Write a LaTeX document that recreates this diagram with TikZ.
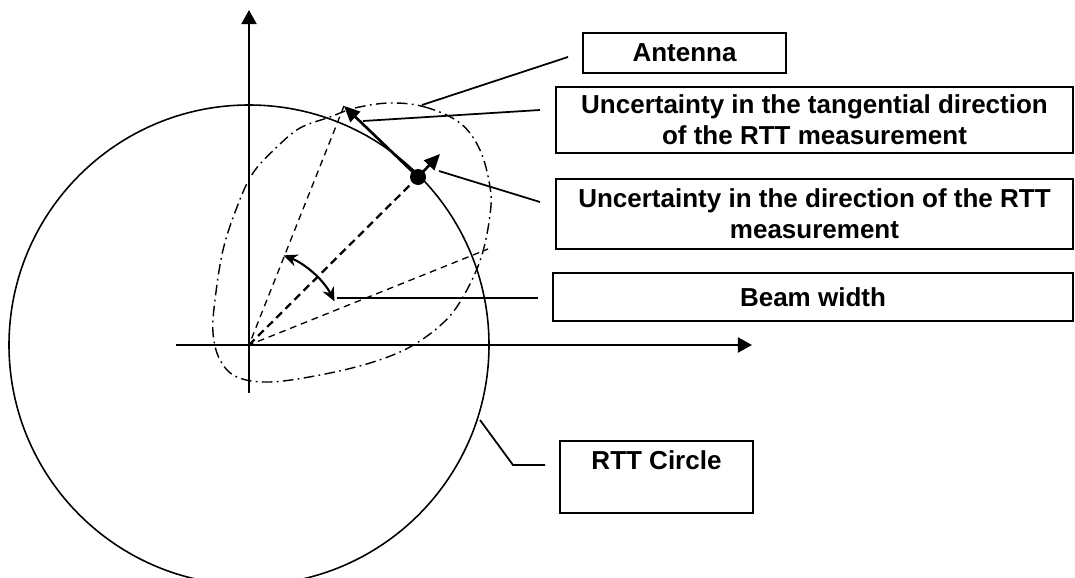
\documentclass[tikz,border=0pt]{standalone}
\usepackage{fontspec}
\setmainfont{Liberation Sans}
\usetikzlibrary{arrows.meta, positioning, calc}

\begin{document}
\begin{tikzpicture}[x=0.02cm, y=-0.02cm, font=\fontsize{14.8}{17.6}\selectfont\bfseries,
    blk/.style={draw, line width=0.95pt, align=center, inner sep=0pt},
    axis/.style={line width=1.3pt, -{Triangle[length=8pt, width=8.5pt]}},
    lead/.style={line width=1pt},
    beam/.style={line width=0.75pt, dash pattern=on 3.8pt off 2.8pt},
    arrow/.style={line width=1.5pt, -{Triangle[length=9pt, width=8pt]}}]
    \clip (0,0) rectangle (1075,578);
    \coordinate (O) at (249,345);
    \coordinate (xl) at (176,345);
    \coordinate (xr) at (752,345);
    \coordinate (yb) at (249,393);
    \coordinate (yt) at (249,10);
    \coordinate (ant) at (418,177);
    \coordinate (tip) at (344,106);
    \coordinate (dirtip) at (440,154);
    \coordinate (lo) at (488,249);
    \node[blk, minimum width=4.06cm, minimum height=0.8cm] (antbox) at (684.5,53) {Antenna};
    \node[blk, minimum width=10.34cm, minimum height=1.32cm] (tanbox) at (814.5,120)
        {Uncertainty in the tangential direction\\of the RTT measurement};
    \node[blk, minimum width=10.34cm, minimum height=1.4cm] (dirbox) at (814.5,214)
        {Uncertainty in the direction of the RTT\\measurement};
    \node[blk, minimum width=10.4cm, minimum height=0.96cm] (beambox) at (813,297) {Beam width};
    \node[blk, minimum width=3.86cm, minimum height=1.44cm] (rttbox) at (656.5,477) {RTT Circle\\[2pt]};
    \draw[axis] (xl) -- (xr);
    \draw[axis] (yb) -- (yt);
    \draw[line width=0.9pt] (O) circle[radius=240];
    \draw[line width=0.8pt, dash pattern=on 6pt off 2.5pt on 1pt off 2.5pt]
        plot[smooth cycle, tension=0.6] coordinates {(390,103) (425,107) (460,123) (480,150) (490,187)
        (490,215) (481,258) (463,297) (443,323) (410,347) (370,363) (320,375) (270,382) (237,377)
        (220,360) (213,333) (215,300) (223,250) (237,207) (253,173) (277,147) (300,128) (330,117) (355,108)};
    \draw[line width=1.3pt, dash pattern=on 4.5pt off 2.8pt] (O) -- (ant);
    \draw[beam] (tip) -- (O) -- (lo);
    \draw[arrow] (ant) -- (tip);
    \draw[arrow] (ant) -- (dirtip);
    \fill (ant) circle[radius=8];
    \draw[line width=1.2pt, {Stealth[length=8pt, width=7pt]}-{Stealth[length=8pt, width=7pt]}]
        (O) ++(-69:96) arc[start angle=-69, end angle=-27, radius=96];
    \coordinate (antL) at (422,105);
    \coordinate (antR) at (568,57);
    \coordinate (tanL) at (363,121);
    \coordinate (tanR) at (540,110);
    \coordinate (dirL) at (439,171);
    \coordinate (dirR) at (540,202);
    \coordinate (beamL) at (337,298);
    \coordinate (beamR) at (538,298);
    \coordinate (rttL) at (480,420);
    \coordinate (rttM) at (513,465);
    \coordinate (rttR) at (545,465);
    \draw[lead] (antL) -- (antR);
    \draw[lead] (tanL) -- (tanR);
    \draw[lead] (dirL) -- (dirR);
    \draw[lead] (beamL) -- (beamR);
    \draw[lead] (rttL) -- (rttM) -- (rttR);
\end{tikzpicture}
\end{document}
